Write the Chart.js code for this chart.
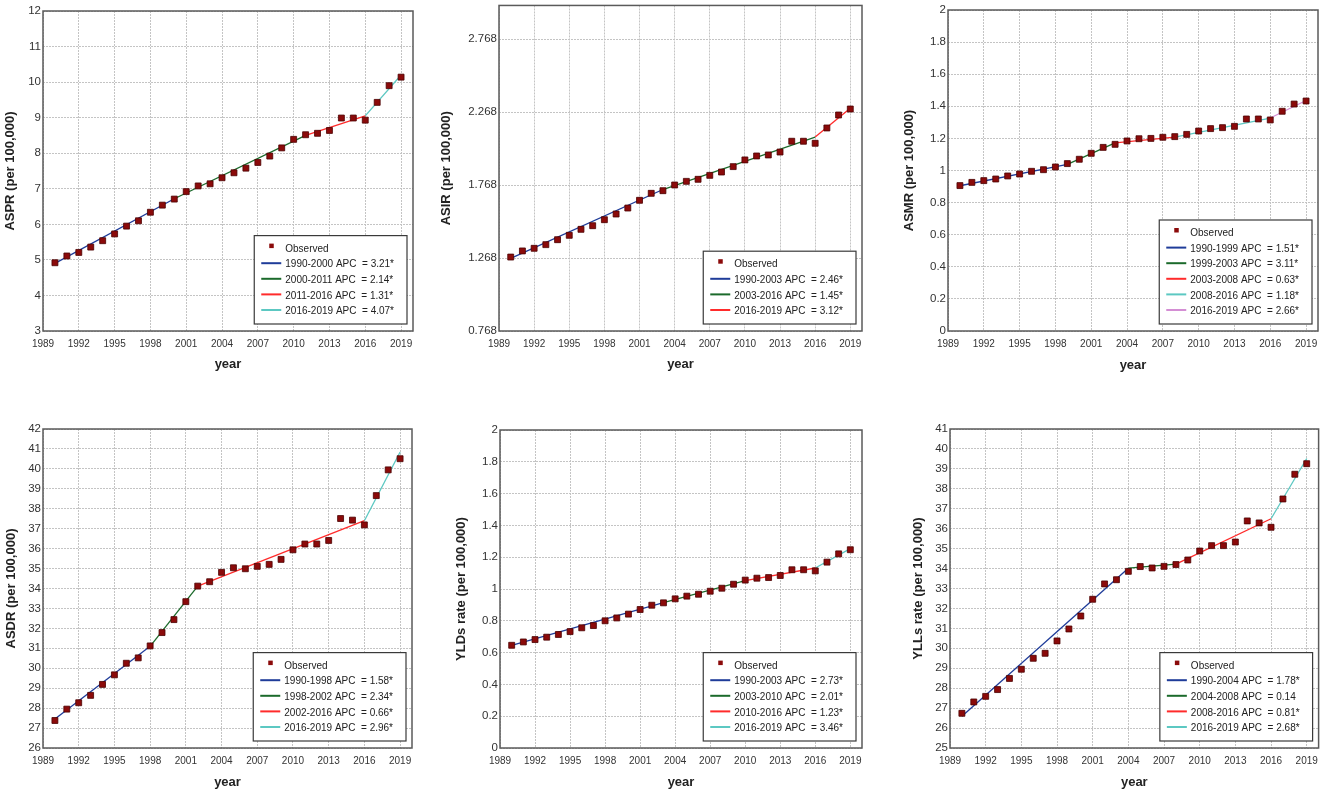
<!DOCTYPE html>
<html lang="en">
<head>
<meta charset="UTF-8">
<title>Joinpoint trends 1990-2019</title>
<style>
  html, body { margin: 0; padding: 0; background: #fff; }
  body { width: 1325px; height: 793px; position: relative; overflow: hidden; }
  canvas { position: absolute; }
</style>
</head>
<body>
<canvas id="aspr"></canvas>
<canvas id="asir"></canvas>
<canvas id="asmr"></canvas>
<canvas id="asdr"></canvas>
<canvas id="ylds"></canvas>
<canvas id="ylls"></canvas>

<script src="https://cdn.jsdelivr.net/npm/chart.js"></script>
<script>
// --- data ---
const years = [1990, 1991, 1992, 1993, 1994, 1995, 1996, 1997, 1998, 1999,
               2000, 2001, 2002, 2003, 2004, 2005, 2006, 2007, 2008, 2009,
               2010, 2011, 2012, 2013, 2014, 2015, 2016, 2017, 2018, 2019];
const xTicks = [1989, 1992, 1995, 1998, 2001, 2004, 2007, 2010, 2013, 2016, 2019];

// ASPR
const aspr = [4.92, 5.11, 5.21, 5.36, 5.54, 5.73, 5.95, 6.10, 6.34, 6.54,
              6.71, 6.92, 7.08, 7.14, 7.31, 7.45, 7.58, 7.74, 7.92, 8.15,
              8.39, 8.52, 8.56, 8.64, 8.99, 8.99, 8.93, 9.43, 9.90, 10.14];
const asprJoinYears = [1990, 2000, 2011, 2016, 2019];
const asprJoinValues = [4.90, 6.72, 8.50, 9.05, 10.20];
const asprApc = ['3.21*', '2.14*', '1.31*', '4.07*'];
const asprTicks = [3, 4, 5, 6, 7, 8, 9, 10, 11, 12];

// ASIR
const asir = [1.275, 1.317, 1.335, 1.360, 1.394, 1.424, 1.465, 1.490, 1.531, 1.570,
              1.611, 1.664, 1.712, 1.730, 1.769, 1.794, 1.808, 1.835, 1.858, 1.895,
              1.941, 1.968, 1.975, 1.995, 2.069, 2.069, 2.055, 2.160, 2.249, 2.290];
const asirJoinYears = [1990, 2003, 2016, 2019];
const asirJoinValues = [1.266, 1.738, 2.098, 2.296];
const asirApc = ['2.46*', '1.45*', '3.12*'];
const asirTicks = [0.768, 1.268, 1.768, 2.268, 2.768];

// ASMR
const asmr = [0.906, 0.926, 0.937, 0.947, 0.966, 0.978, 0.995, 1.005, 1.022, 1.043,
              1.070, 1.107, 1.144, 1.163, 1.184, 1.198, 1.200, 1.207, 1.211, 1.225,
              1.246, 1.261, 1.267, 1.275, 1.321, 1.321, 1.315, 1.369, 1.414, 1.433];
const asmrJoinYears = [1990, 1999, 2003, 2008, 2016, 2019];
const asmrJoinValues = [0.905, 1.038, 1.172, 1.208, 1.327, 1.436];
const asmrApc = ['1.51*', '3.11*', '0.63*', '1.18*', '2.66*'];

// ASDR
const asdr = [27.38, 27.95, 28.27, 28.64, 29.19, 29.67, 30.25, 30.52, 31.12, 31.79,
              32.44, 33.34, 34.12, 34.34, 34.81, 35.04, 34.99, 35.11, 35.21, 35.46,
              35.94, 36.23, 36.23, 36.41, 37.51, 37.43, 37.19, 38.66, 39.95, 40.51];
const asdrJoinYears = [1990, 1998, 2002, 2016, 2019];
const asdrJoinValues = [27.45, 31.10, 34.12, 37.40, 40.85];
const asdrApc = ['1.58*', '2.34*', '0.66*', '2.96*'];
const asdrTicks = [26, 27, 28, 29, 30, 31, 32, 33, 34, 35, 36, 37, 38, 39, 40, 41, 42];

// YLDs rate
const ylds = [0.646, 0.667, 0.682, 0.697, 0.714, 0.732, 0.756, 0.770, 0.800, 0.818,
              0.842, 0.871, 0.898, 0.913, 0.938, 0.955, 0.967, 0.986, 1.005, 1.030,
              1.056, 1.068, 1.072, 1.085, 1.121, 1.121, 1.114, 1.169, 1.221, 1.247];
const yldsJoinYears = [1990, 2003, 2010, 2016, 2019];
const yldsJoinValues = [0.645, 0.915, 1.052, 1.132, 1.254];
const yldsApc = ['2.73*', '2.01*', '1.23*', '3.46*'];

// YLLs rate
const ylls = [26.74, 27.31, 27.59, 27.93, 28.49, 28.95, 29.50, 29.75, 30.37, 30.97,
              31.62, 32.46, 33.23, 33.44, 33.86, 34.10, 34.03, 34.11, 34.20, 34.43,
              34.88, 35.15, 35.15, 35.33, 36.39, 36.29, 36.07, 37.49, 38.73, 39.26];
const yllsJoinYears = [1990, 2004, 2008, 2016, 2019];
const yllsJoinValues = [26.59, 34.02, 34.22, 36.50, 39.52];
const yllsApc = ['1.78*', '0.14', '0.81*', '2.68*'];
const yllsTicks = [25, 26, 27, 28, 29, 30, 31, 32, 33, 34, 35, 36, 37, 38, 39, 40, 41];

const rateTicks = [0, 0.2, 0.4, 0.6, 0.8, 1, 1.2, 1.4, 1.6, 1.8, 2];

// --- look ---
const segColors = ['#1f3c99', '#1b6a2b', '#ff2b2b', '#5cc8c2', '#d48ed4'];
const markerColor = '#8b0a0a';
const sans = '"Liberation Sans", Arial, sans-serif';

// frame around the plot area
const frame = {
    id: 'frame',
    afterDatasetsDraw(chart) {
        const a = chart.chartArea, ctx = chart.ctx;
        ctx.save();
        ctx.strokeStyle = '#5a5a5a';
        ctx.lineWidth = 1.5;
        ctx.strokeRect(a.left, a.top, a.right - a.left, a.bottom - a.top);
        ctx.restore();
    }
};

// boxed legend, bottom right inside the plot (text squeezed a little, like the original)
const boxLegend = {
    id: 'boxLegend',
    afterDraw(chart, args, opts) {
        const a = chart.chartArea, ctx = chart.ctx;
        const rows = opts.rows || [];
        const sx = 0.87;
        ctx.save();
        ctx.font = '11.5px ' + sans;
        let tw = 0;
        rows.forEach(r => { tw = Math.max(tw, ctx.measureText(r.label).width * sx); });
        const w = 31 + tw + 13;
        const h = 26 + (rows.length - 1) * 15.6;
        const x = a.right - 6 - w;
        const y = a.bottom - 7 - h;
        ctx.fillStyle = '#ffffff';
        ctx.fillRect(x, y, w, h);
        ctx.strokeStyle = '#3a3a3a';
        ctx.lineWidth = 1.2;
        ctx.strokeRect(x, y, w, h);
        rows.forEach((r, i) => {
            const cy = y + 12 + i * 15.6;
            if (r.marker) {
                ctx.fillStyle = markerColor;
                ctx.fillRect(x + 15, cy - 4, 4.5, 4.5);
            } else {
                ctx.strokeStyle = r.color;
                ctx.lineWidth = 2;
                ctx.beginPath();
                ctx.moveTo(x + 7, cy);
                ctx.lineTo(x + 27, cy);
                ctx.stroke();
            }
            ctx.save();
            ctx.translate(x + 31, cy + 1);
            ctx.scale(sx, 1);
            ctx.fillStyle = '#222';
            ctx.textBaseline = 'middle';
            ctx.fillText(r.label, 0, 0);
            ctx.restore();
        });
        ctx.restore();
    }
};

// canvas rect, plot rect, centre of y title, centre of "year"
const panels = [
    { id: 'aspr', title: 'ASPR (per 100,000)', values: aspr, jy: asprJoinYears, jv: asprJoinValues, apc: asprApc,
      ticks: asprTicks, min: 3, max: 12,
      box: { x: 0, y: 0, w: 440, h: 385 }, plot: { l: 43, t: 11, r: 413, b: 331 }, tx: 10.5, yy: 364 },
    { id: 'asir', title: 'ASIR (per 100,000)', values: asir, jy: asirJoinYears, jv: asirJoinValues, apc: asirApc,
      ticks: asirTicks, min: 0.768, max: 3.0,
      box: { x: 440, y: 0, w: 440, h: 385 }, plot: { l: 499, t: 5, r: 862, b: 331 }, tx: 446, yy: 364 },
    { id: 'asmr', title: 'ASMR (per 100,000)', values: asmr, jy: asmrJoinYears, jv: asmrJoinValues, apc: asmrApc,
      ticks: rateTicks, min: 0, max: 2,
      box: { x: 880, y: 0, w: 445, h: 385 }, plot: { l: 948, t: 10, r: 1318, b: 331 }, tx: 909, yy: 365 },
    { id: 'asdr', title: 'ASDR (per 100,000)', values: asdr, jy: asdrJoinYears, jv: asdrJoinValues, apc: asdrApc,
      ticks: asdrTicks, min: 26, max: 42,
      box: { x: 0, y: 393, w: 440, h: 400 }, plot: { l: 43, t: 429, r: 412, b: 748 }, tx: 11.5, yy: 782 },
    { id: 'ylds', title: 'YLDs rate (per 100,000)', values: ylds, jy: yldsJoinYears, jv: yldsJoinValues, apc: yldsApc,
      ticks: rateTicks, min: 0, max: 2,
      box: { x: 440, y: 393, w: 440, h: 400 }, plot: { l: 500, t: 430, r: 862, b: 748 }, tx: 461, yy: 782 },
    { id: 'ylls', title: 'YLLs rate (per 100,000)', values: ylls, jy: yllsJoinYears, jv: yllsJoinValues, apc: yllsApc,
      ticks: yllsTicks, min: 25, max: 41,
      box: { x: 880, y: 393, w: 445, h: 400 }, plot: { l: 950, t: 429, r: 1320, b: 748 }, tx: 918, yy: 782 }
];

const titleFont = { family: sans, size: 13, weight: 'bold', lineHeight: 1.2 };
const halfLine = 13 * 1.2 / 2;

panels.forEach(p => {
    const cv = document.getElementById(p.id);
    cv.width = p.box.w;
    cv.height = p.box.h;
    cv.style.left = p.box.x + 'px';
    cv.style.top = p.box.y + 'px';

    const padLeft = p.tx - p.box.x - halfLine;
    const yWidth = p.plot.l - p.box.x - padLeft;
    const padTop = p.plot.t - p.box.y;
    const padRight = p.box.x + p.box.w - p.plot.r;
    const xBottom = p.yy + halfLine + 2;
    const xHeight = xBottom - p.plot.b;
    const padBottom = p.box.y + p.box.h - xBottom;

    const datasets = [{
        label: 'Observed',
        data: years.map((yr, i) => ({ x: yr, y: p.values[i] })),
        showLine: false,
        pointStyle: 'rect',
        pointRadius: 4.2,
        backgroundColor: markerColor,
        borderColor: '#4a0000',
        borderWidth: 0.8
    }];
    const rows = [{ label: 'Observed', marker: true }];
    for (let s = 0; s < p.jy.length - 1; s++) {
        datasets.push({
            label: p.jy[s] + '-' + p.jy[s + 1],
            data: [{ x: p.jy[s], y: p.jv[s] }, { x: p.jy[s + 1], y: p.jv[s + 1] }],
            showLine: true,
            pointRadius: 0,
            borderColor: segColors[s],
            borderWidth: 1.3
        });
        rows.push({ label: p.jy[s] + '-' + p.jy[s + 1] + ' APC  = ' + p.apc[s], color: segColors[s] });
    }

    new Chart(cv, {
        type: 'scatter',
        data: { datasets: datasets },
        options: {
            responsive: false,
            animation: false,
            events: [],
            layout: { padding: { left: padLeft, top: padTop, right: padRight, bottom: padBottom } },
            scales: {
                x: {
                    type: 'linear',
                    min: 1989,
                    max: 2020,
                    afterBuildTicks: s => { s.ticks = xTicks.map(v => ({ value: v })); },
                    afterFit: s => { s.height = xHeight; },
                    grid: { color: '#c4c4c4', drawTicks: false, lineWidth: 1 },
                    border: { display: false, dash: [2, 1] },
                    ticks: {
                        autoSkip: false,
                        maxRotation: 0,
                        padding: 7,
                        color: '#333',
                        font: { family: sans, size: 10 },
                        callback: v => String(v)
                    },
                    title: { display: true, text: 'year', color: '#222', font: titleFont, padding: { top: 0, bottom: 2 } }
                },
                y: {
                    min: p.min,
                    max: p.max,
                    afterBuildTicks: s => { s.ticks = p.ticks.map(v => ({ value: v })); },
                    afterFit: s => { s.width = yWidth; },
                    grid: { color: '#c4c4c4', drawTicks: false, lineWidth: 1 },
                    border: { display: false, dash: [2, 1] },
                    ticks: {
                        autoSkip: false,
                        padding: 2,
                        color: '#333',
                        font: { family: sans, size: 11.5, lineHeight: 0.6 },
                        callback: v => String(v)
                    },
                    title: { display: true, text: p.title, color: '#222', font: titleFont, padding: { top: 0, bottom: 0 } }
                }
            },
            plugins: {
                legend: { display: false },
                tooltip: { enabled: false },
                boxLegend: { rows: rows }
            }
        },
        plugins: [frame, boxLegend]
    });
});
</script>
</body>
</html>
